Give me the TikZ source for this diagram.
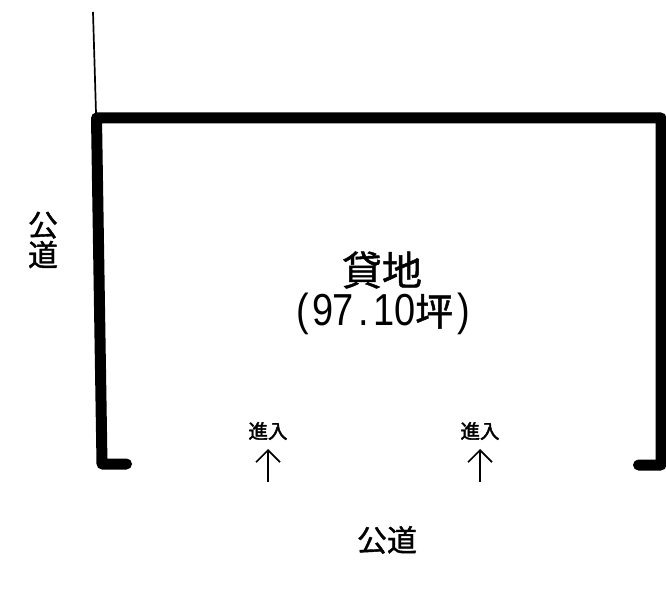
\documentclass[tikz,border=0pt]{standalone}
\usepackage{graphicx}
\usepackage{fontspec}
\setmainfont{Liberation Sans}
\newfontfamily\cjk{Noto Sans CJK JP}[FakeBold=1.2]
\newfontfamily\cjkb{Noto Sans CJK JP}[FakeBold=2]
\usetikzlibrary{arrows.meta}
\newcommand{\hw}[1]{\makebox[20.5pt][c]{\scalebox{1}[1.18]{#1}}}
\tikzset{
  x=1pt,y=-1pt,
  wall/.style={line width=11pt,line join=round,line cap=round,black},
  thinline/.style={line width=1.7pt,black},
  entry/.style={line width=1.7pt,black,-{Straight Barb[length=12pt,width=24pt,line width=1.7pt]}},
  lbl/.style={inner sep=0pt,outer sep=0pt,align=center,text=black},
}
\begin{document}
\begin{tikzpicture}
\useasboundingbox (0,0) rectangle (666,604);
\fill[white] (0,0) rectangle (666,604);
\coordinate (t0) at (93,12);
\coordinate (t1) at (96,113);
\coordinate (w0) at (126.5,464);
\coordinate (w1) at (102,464);
\coordinate (w2) at (96.5,118);
\coordinate (w3) at (661,118);
\coordinate (w4) at (661,465);
\coordinate (w5) at (638.5,465);
\coordinate (a0) at (268,482);
\coordinate (a1) at (268,449);
\coordinate (b0) at (480,482);
\coordinate (b1) at (480,449);
\draw[thinline] (t0) -- (t1);
\draw[wall] (w0) -- (w1) -- (w2) -- (w3) -- (w4) -- (w5);
\draw[entry] (a0) -- (a1);
\draw[entry] (b0) -- (b1);
\node[lbl,font=\cjk\fontsize{40}{40}\selectfont] (kashi) at (382,270) {貸地};
\node[lbl] (area) at (383,314) {\fontsize{38}{38}\selectfont\hw{(}\hw{9}\hw{7}\hw{.}\hw{1}\hw{0}{\cjk\fontsize{38}{38}\selectfont 坪}\hw{)}};
\node[lbl,font=\cjk\fontsize{30}{30}\selectfont] (roadL) at (43,240) {公\\[0pt]道};
\node[lbl,font=\cjk\fontsize{30}{30}\selectfont] (roadB) at (387,540) {公道};
\node[lbl,font=\cjkb\fontsize{19.5}{20}\selectfont] (in1) at (268,431) {進入};
\node[lbl,font=\cjkb\fontsize{19.5}{20}\selectfont] (in2) at (480,431) {進入};
\end{tikzpicture}
\end{document}
